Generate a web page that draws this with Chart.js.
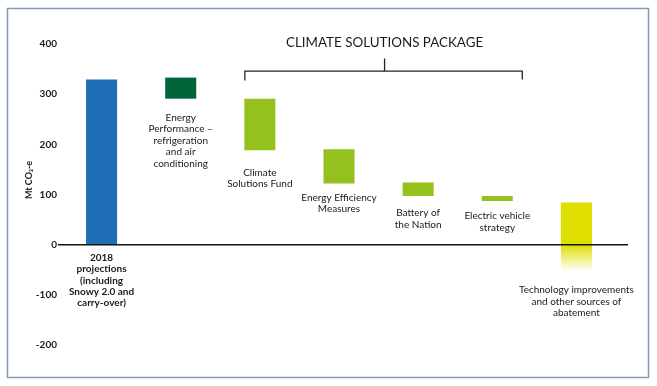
<!DOCTYPE html>
<html>
<head>
<meta charset="utf-8">
<script src="https://cdn.jsdelivr.net/npm/chart.js@4"></script>
<style>
  html, body { margin: 0; padding: 0; background: #fff; }
  #wrap { width: 657px; height: 386px; position: relative; }
</style>
</head>
<body>
<div id="wrap"><canvas id="chart" width="657" height="386"></canvas></div>
<script>
// chart data
const categories = [
    ['2018', 'projections', '(including', 'Snowy 2.0 and', 'carry-over)'],
    ['Energy', 'Performance –', 'refrigeration', 'and air', 'conditioning'],
    ['Climate', 'Solutions Fund'],
    ['Energy Efficiency', 'Measures'],
    ['Battery of', 'the Nation'],
    ['Electric vehicle', 'strategy'],
    ['Technology improvements', 'and other sources of', 'abatement']
];
const barLow  = [0, 291, 188, 122, 97, 87, -53];
const barHigh = [329, 333, 291, 190, 124, 97, 84];
const yTicks = [400, 300, 200, 100, 0, -100, -200];
const packageTitle = 'CLIMATE SOLUTIONS PACKAGE';
const yTitle = 'Mt CO\u2082-e';

// looks
const barColors = ['#1e6db6', '#006538', '#95c11f', '#95c11f', '#95c11f', '#95c11f', '#dede00'];
const labelGap = [13, 19, 22, 14, 17, 15, 19]; // px from bar bottom to first label line
const labelBold = [true, false, false, false, false, false, false];
const FONT = 'Lato, "Open Sans", sans-serif';

function barFill(ctx) {
    const i = ctx.dataIndex;
    const chart = ctx.chart;
    if (i !== 6 || !chart.chartArea) return barColors[i];
    const y = chart.scales.y;
    const g = chart.ctx.createLinearGradient(0, y.getPixelForValue(barHigh[i]), 0, y.getPixelForValue(barLow[i]));
    const stop = (barHigh[i] - 0) / (barHigh[i] - barLow[i]);
    g.addColorStop(0, 'rgba(222,222,0,1)');
    g.addColorStop(stop, 'rgba(222,222,0,1)');
    g.addColorStop(1, 'rgba(222,222,0,0)');
    return g;
}

const annotations = {
    id: 'annotations',
    beforeDraw(chart) {
        const c = chart.ctx;
        c.save();
        c.fillStyle = '#fff';
        c.fillRect(0, 0, chart.width, chart.height);
        c.restore();
    },
    afterDatasetsDraw(chart) {
        const c = chart.ctx;
        const x = chart.scales.x;
        const y = chart.scales.y;
        c.save();

        // zero line
        c.strokeStyle = '#111';
        c.lineWidth = 1.5;
        c.beginPath();
        c.moveTo(58, y.getPixelForValue(0));
        c.lineTo(628, y.getPixelForValue(0));
        c.stroke();

        // frame
        c.strokeStyle = '#8399b5';
        c.lineWidth = 1.5;
        c.strokeRect(7.5, 8.5, 641, 369);

        // bar labels
        c.fillStyle = '#1a1a1a';
        c.textAlign = 'center';
        c.textBaseline = 'middle';
        categories.forEach((lines, i) => {
            c.font = (labelBold[i] ? 'bold ' : '') + '10px ' + FONT;
            const cx = x.getPixelForValue(i);
            const top = y.getPixelForValue(barLow[i]) + labelGap[i];
            lines.forEach((ln, k) => c.fillText(ln, cx, top + k * 11.4));
        });

        // package title and bracket
        c.font = '13.4px ' + FONT;
        const midX = (x.getPixelForValue(2) + x.getPixelForValue(5)) / 2 + 6;
        c.fillText(packageTitle, midX, y.getPixelForValue(403));
        const left = x.getPixelForValue(2) - 15;
        const right = x.getPixelForValue(5) + 25;
        const by = y.getPixelForValue(346);
        c.strokeStyle = '#222';
        c.lineWidth = 1.3;
        c.beginPath();
        c.moveTo(left, y.getPixelForValue(327));
        c.lineTo(left, by);
        c.lineTo(right, by);
        c.lineTo(right, y.getPixelForValue(329));
        c.moveTo(midX, by);
        c.lineTo(midX, y.getPixelForValue(371));
        c.stroke();

        // y title
        c.font = 'bold 9px ' + FONT;
        c.translate(29, 180);
        c.rotate(-Math.PI / 2);
        c.fillText(yTitle, 0, 0);
        c.restore();
    }
};

new Chart(document.getElementById('chart'), {
    type: 'bar',
    data: {
        labels: categories.map(l => l.join(' ')),
        datasets: [{
            data: barLow.map((v, i) => [v, barHigh[i]]),
            backgroundColor: barFill,
            borderWidth: 0,
            barPercentage: 0.392,
            categoryPercentage: 1
        }]
    },
    options: {
        responsive: false,
        animation: false,
        layout: { padding: { left: 0, right: 41, top: 44, bottom: 41 } },
        plugins: { legend: { display: false }, tooltip: { enabled: false } },
        scales: {
            x: { display: false },
            y: {
                min: -200,
                max: 400,
                afterBuildTicks: s => { s.ticks = yTicks.map(v => ({ value: v })); },
                afterFit: s => { s.width = 62; },
                border: { display: false },
                grid: { display: false, drawTicks: false },
                ticks: {
                    padding: 5,
                    color: '#1a1a1a',
                    font: { family: FONT, size: 10, weight: 'bold' }
                }
            }
        }
    },
    plugins: [annotations]
});
</script>
</body>
</html>
